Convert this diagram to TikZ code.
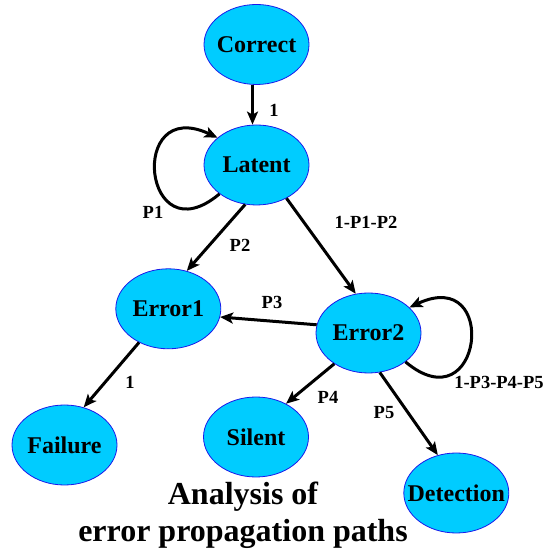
\documentclass[tikz,border=0pt]{standalone}
\usepackage{fontspec}
\setmainfont{Liberation Serif}
\usetikzlibrary{arrows.meta,shapes.geometric}
\definecolor{statefill}{RGB}{0,204,255}
\definecolor{stateline}{RGB}{25,25,235}

\begin{document}
\begin{tikzpicture}[x=1pt,y=1pt,>={Stealth[length=13pt,width=11pt,inset=3pt]},
  st/.style={ellipse,draw=stateline,line width=0.8pt,fill=statefill,minimum width=105pt,
    minimum height=80pt,inner xsep=-15pt,inner ysep=0pt,font=\fontsize{24}{28}\selectfont\bfseries},
  lbl/.style={inner sep=1pt,font=\fontsize{18.5}{22}\selectfont\bfseries},
  e/.style={->,line width=3pt}]
\useasboundingbox (0,0) rectangle (547,553);
% states
\node[st] (cor) at (256.5,508.5) {Correct};
\node[st] (lat) at (256.5,388) {Latent};
\node[st] (err1) at (168.3,244.2) {Error1};
\node[st] (err2) at (368.5,220) {Error2};
\node[st] (fail) at (64.5,108) {Failure};
\node[st] (sil) at (256,116) {Silent};
\node[st] (det) at (456.3,60) {Detection};
\node[align=center,inner sep=0pt,font=\fontsize{32}{37.7}\selectfont\bfseries] (ttl) at (243,37.6)
  {Analysis of\\error propagation paths};
% transitions
\draw[e] ([xshift=-4pt]cor.south) -- ([xshift=-4pt]lat.north);
\draw[e] (lat.218) to[out=220,in=155,distance=100pt] (lat.145);
\draw[e] (lat.254) -- (err1.64);
\draw[e] (lat.312) -- (err2.108);
\draw[e] (err2.171) -- (err1.351);
\draw[e] (err2.322) to[out=-40,in=25,distance=100pt] (err2.32);
\draw[e] (err1.229) -- (fail.63);
\draw[e] (err2.222) -- (sil.48);
\draw[e] (err2.286) -- (det.116);
% probabilities
\node[lbl] (l1) at (274,443) {1};
\node[lbl] (lp1) at (153,341) {P1};
\node[lbl] (lp2) at (240,308) {P2};
\node[lbl] (lq) at (366,331) {1-P1-P2};
\node[lbl] (lp3) at (272,251) {P3};
\node[lbl] (lr) at (499,171) {1-P3-P4-P5};
\node[lbl] (l1b) at (130,171) {1};
\node[lbl] (lp4) at (328,156) {P4};
\node[lbl] (lp5) at (384,140) {P5};
\end{tikzpicture}
\end{document}
